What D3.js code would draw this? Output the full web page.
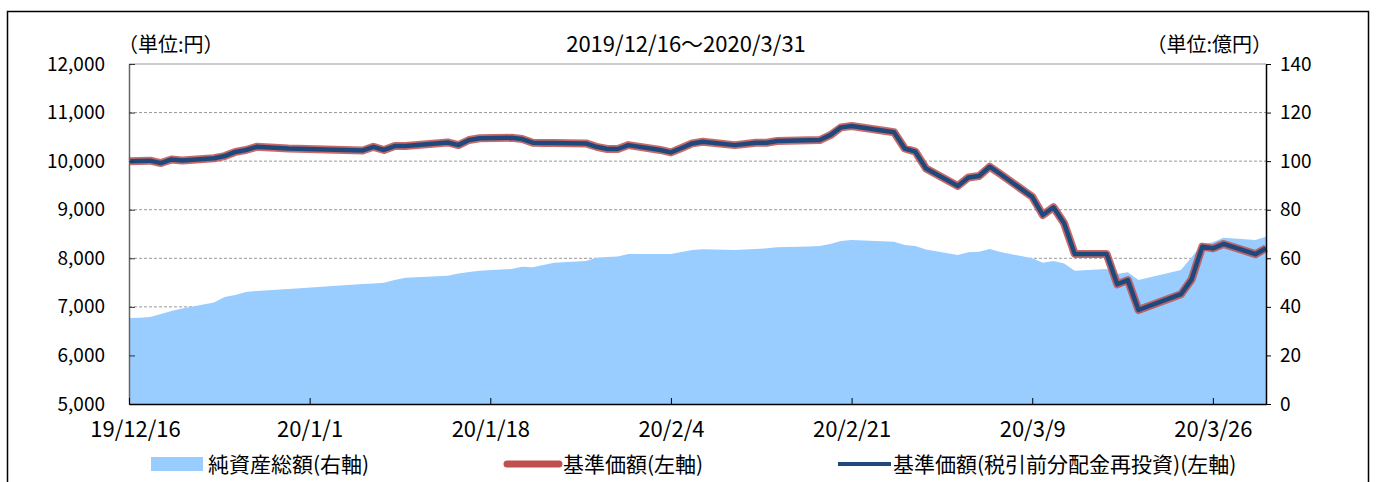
<!DOCTYPE html>
<html>
<head>
<meta charset="utf-8">
<script src="https://cdn.jsdelivr.net/npm/d3@7"></script>
<style>
body { margin: 0; background: #fff; }
text { font-family: "Noto Sans CJK JP", sans-serif; fill: #000; }
</style>
</head>
<body>
<svg id="chart" width="1376" height="482"></svg>
<script>
// business days plotted (first point sits on the axis start)
var dates = [
  "2019-12-15","2019-12-16","2019-12-17","2019-12-18","2019-12-19","2019-12-20",
  "2019-12-23","2019-12-24","2019-12-25","2019-12-26","2019-12-27","2019-12-30",
  "2020-01-06","2020-01-07","2020-01-08","2020-01-09","2020-01-10",
  "2020-01-14","2020-01-15","2020-01-16","2020-01-17",
  "2020-01-20","2020-01-21","2020-01-22","2020-01-23","2020-01-24",
  "2020-01-27","2020-01-28","2020-01-29","2020-01-30","2020-01-31",
  "2020-02-03","2020-02-04","2020-02-05","2020-02-06","2020-02-07",
  "2020-02-10","2020-02-12","2020-02-13","2020-02-14",
  "2020-02-17","2020-02-18","2020-02-19","2020-02-20","2020-02-21",
  "2020-02-25","2020-02-26","2020-02-27","2020-02-28",
  "2020-03-02","2020-03-03","2020-03-04","2020-03-05","2020-03-06",
  "2020-03-09","2020-03-10","2020-03-11","2020-03-12","2020-03-13",
  "2020-03-16","2020-03-17","2020-03-18","2020-03-19",
  "2020-03-23","2020-03-24","2020-03-25","2020-03-26","2020-03-27",
  "2020-03-30","2020-03-31"
];

// 基準価額 (円)
var nav = [
  10000,10005,10010,9960,10035,10015,
  10060,10105,10190,10230,10295,10260,
  10220,10295,10230,10310,10310,
  10385,10330,10435,10470,
  10480,10455,10380,10375,10372,
  10365,10295,10250,10250,10330,
  10230,10180,10270,10365,10400,
  10330,10380,10380,10415,
  10430,10435,10535,10695,10725,
  10595,10260,10195,9850,
  9490,9665,9695,9885,9735,
  9265,8890,9050,8720,8090,
  8090,7465,7550,6935,
  7260,7565,8240,8205,8295,
  8085,8205
];

// 基準価額(税引前分配金再投資): no distribution in the period, same as nav
var navReinvest = nav.slice();

// 純資産総額 (億円)
var netAssets = [
  35.4,35.5,35.8,37.1,38.3,39.3,
  41.8,44.1,44.9,46.1,46.5,47.4,
  49.4,49.6,49.9,51.1,52.0,
  52.8,53.7,54.4,54.9,
  55.6,56.5,56.3,57.2,58.2,
  58.9,60.2,60.5,60.7,61.8,
  61.8,61.8,62.6,63.4,63.7,
  63.4,63.8,64.1,64.5,
  64.9,65.1,65.9,67.1,67.5,
  66.8,65.5,65.1,63.6,
  61.4,62.5,62.7,63.8,62.6,
  60.0,58.2,58.9,57.9,54.9,
  55.6,53.5,54.2,51.1,
  55.2,60.4,65.9,66.6,68.5,
  67.5,68.9
];

var tickDates = ["2019-12-15","2020-01-01","2020-01-18","2020-02-04","2020-02-21","2020-03-09","2020-03-26"];
var tickLabels = ["19/12/16","20/1/1","20/1/18","20/2/4","20/2/21","20/3/9","20/3/26"];
var leftTicks = [5000,6000,7000,8000,9000,10000,11000,12000];
var rightTicks = [0,20,40,60,80,100,120,140];
var legendNames = ["純資産総額(右軸)", "基準価額(左軸)", "基準価額(税引前分配金再投資)(左軸)"];

(function() {
    var parse = d3.timeParse("%Y-%m-%d");
    var pLeft = 129, pRight = 1266, pTop = 64, pBottom = 404;

    var svg = d3.select("#chart");

    // outer frame
    svg.append("rect")
        .attr("x", 7.5).attr("y", 11.5)
        .attr("width", 1361).attr("height", 490)
        .attr("fill", "none").attr("stroke", "#000").attr("stroke-width", 1.5);

    var x = d3.scaleTime()
        .domain([parse("2019-12-15"), parse("2020-03-31")])
        .range([pLeft, pRight]);
    var yL = d3.scaleLinear().domain([5000, 12000]).range([pBottom, pTop]);
    var yR = d3.scaleLinear().domain([0, 140]).range([pBottom, pTop]);

    var rows = dates.map(function(d, i) {
        return { date: parse(d), nav: nav[i], re: navReinvest[i], assets: netAssets[i] };
    });

    // gridlines
    svg.append("g").selectAll("line")
        .data(leftTicks.filter(function(t) { return t > 5000 && t < 12000; }))
        .enter().append("line")
        .attr("x1", pLeft).attr("x2", pRight)
        .attr("y1", function(d) { return yL(d); })
        .attr("y2", function(d) { return yL(d); })
        .attr("stroke", "#999").attr("stroke-dasharray", "3,2");

    svg.append("line")
        .attr("x1", pLeft).attr("x2", pRight)
        .attr("y1", yL(12000)).attr("y2", yL(12000))
        .attr("stroke", "#999");

    // net assets area
    var area = d3.area()
        .x(function(d) { return x(d.date); })
        .y0(pBottom)
        .y1(function(d) { return yR(d.assets); });

    svg.append("path")
        .datum(rows)
        .attr("d", area)
        .attr("fill", "#99CCFF");

    // nav lines
    var navLine = d3.line()
        .x(function(d) { return x(d.date); })
        .y(function(d) { return yL(d.nav); });
    var reLine = d3.line()
        .x(function(d) { return x(d.date); })
        .y(function(d) { return yL(d.re); });

    svg.append("path")
        .datum(rows)
        .attr("d", navLine)
        .attr("fill", "none")
        .attr("stroke", "#C0504D")
        .attr("stroke-opacity", 0.85)
        .attr("stroke-width", 8)
        .attr("stroke-linejoin", "round");

    svg.append("path")
        .datum(rows)
        .attr("d", reLine)
        .attr("fill", "none")
        .attr("stroke", "#1F497D")
        .attr("stroke-width", 4.5)
        .attr("stroke-linejoin", "round");

    // axes
    var axL = svg.append("g")
        .attr("transform", "translate(" + pLeft + ",0)")
        .call(d3.axisLeft(yL).tickValues(leftTicks).tickSizeInner(-6).tickSizeOuter(0)
            .tickFormat(d3.format(",")).tickPadding(24));
    axL.select(".domain").attr("stroke", "#666").attr("stroke-width", 1.5);
    axL.selectAll(".tick line").attr("stroke", "#333");
    axL.selectAll("text").style("font-size", "19px").attr("fill", "#000");

    var axR = svg.append("g")
        .attr("transform", "translate(" + pRight + ",0)")
        .call(d3.axisRight(yR).tickValues(rightTicks).tickSizeInner(5).tickSizeOuter(0).tickPadding(9));
    axR.select(".domain").attr("stroke", "#000").attr("stroke-width", 1.5);
    axR.selectAll("text").style("font-size", "19px").attr("fill", "#000");

    var axB = svg.append("g")
        .attr("transform", "translate(0," + pBottom + ")")
        .call(d3.axisBottom(x).tickValues(tickDates.map(parse)).tickSizeInner(-6).tickSizeOuter(0)
            .tickFormat(function(d, i) { return tickLabels[i]; }).tickPadding(17));
    axB.select(".domain").attr("stroke", "#000").attr("stroke-width", 1.5);
    axB.selectAll("text").style("font-size", "22px").attr("fill", "#000");
    // first label sits a little right of the axis corner
    axB.selectAll(".tick text").filter(function(d, i) { return i === 0; }).attr("dx", 6);

    // titles
    svg.append("text")
        .attr("x", 686).attr("y", 52)
        .attr("text-anchor", "middle")
        .style("font-size", "22px")
        .text("2019/12/16～2020/3/31");

    svg.append("text")
        .attr("x", 118).attr("y", 52)
        .style("font-size", "20px")
        .text("（単位:円）");

    svg.append("text")
        .attr("x", 1272).attr("y", 52)
        .attr("text-anchor", "end")
        .style("font-size", "20px")
        .text("（単位:億円）");

    // legend
    var lg = svg.append("g");
    lg.append("rect")
        .attr("x", 151).attr("y", 457).attr("width", 52).attr("height", 14)
        .attr("fill", "#99CCFF");
    lg.append("text").attr("x", 208).attr("y", 472).style("font-size", "21px").text(legendNames[0]);

    lg.append("line")
        .attr("x1", 507).attr("x2", 559).attr("y1", 464).attr("y2", 464)
        .attr("stroke", "#C0504D").attr("stroke-width", 7).attr("stroke-linecap", "round");
    lg.append("text").attr("x", 563).attr("y", 472).style("font-size", "21px").text(legendNames[1]);

    lg.append("line")
        .attr("x1", 838).attr("x2", 891).attr("y1", 464).attr("y2", 464)
        .attr("stroke", "#1F497D").attr("stroke-width", 4);
    lg.append("text").attr("x", 893).attr("y", 472).style("font-size", "21px").text(legendNames[2]);
})();
</script>
</body>
</html>
